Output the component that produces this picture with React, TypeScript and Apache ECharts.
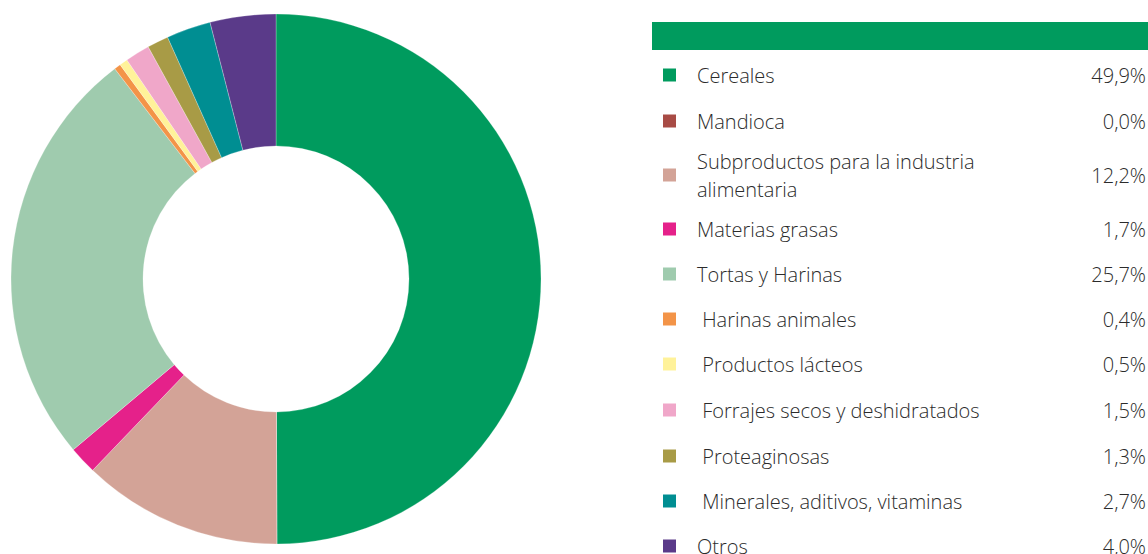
import React, { useEffect, useRef } from "react";
import * as echarts from "echarts";

const categories = [
  "Cereales",
  "Mandioca",
  "Subproductos para la industria\nalimentaria",
  "Materias grasas",
  "Tortas y Harinas",
  " Harinas animales",
  " Productos lácteos",
  " Forrajes secos y deshidratados",
  " Proteaginosas",
  " Minerales, aditivos, vitaminas",
  "Otros",
];
const values = [49.9, 0.0, 12.2, 1.7, 25.7, 0.4, 0.5, 1.5, 1.3, 2.7, 4.0];
const valueLabels = ["49,9%", "0,0%", "12,2%", "1,7%", "25,7%", "0,4%", "0,5%", "1,5%", "1,3%", "2,7%", "4,0%"];
const colors = [
  "#009B5E",
  "#A84B45",
  "#D3A397",
  "#E5218A",
  "#9FCBAE",
  "#F39448",
  "#FFF29A",
  "#F0A7C9",
  "#A89B46",
  "#008E92",
  "#5A3A89",
];
const rowY = [75, 121, 175, 229, 274, 319, 364, 410, 456, 501, 546];

export default function App() {
  const ref = useRef<HTMLDivElement>(null);
  useEffect(() => {
    document.body.style.margin = "0";
    const chart = echarts.init(ref.current!, null, { renderer: "svg" });
    const font = "'Open Sans', 'Noto Sans', sans-serif";
    const legend: any[] = [];
    categories.forEach((c, i) => {
      legend.push({
        type: "rect",
        shape: { x: 663, y: rowY[i] - 6.5, width: 13, height: 13 },
        style: { fill: colors[i] },
      });
      legend.push({
        type: "text",
        x: 697,
        y: rowY[i],
        style: {
          text: c,
          fill: "#2b2b2b",
          font: `300 20px ${font}`,
          verticalAlign: "middle",
          align: "left",
          lineHeight: 28,
        },
      });
      legend.push({
        type: "text",
        x: 1146,
        y: rowY[i],
        style: {
          text: valueLabels[i],
          fill: "#2b2b2b",
          font: `300 20px ${font}`,
          verticalAlign: "middle",
          align: "right",
        },
      });
    });
    chart.setOption({
      animation: false,
      graphic: [
        {
          type: "rect",
          shape: { x: 652, y: 22, width: 496, height: 28 },
          style: { fill: "#009B5E" },
        },
        ...legend,
      ],
      series: [
        {
          type: "pie",
          center: [276, 279],
          radius: [133, 265],
          startAngle: 90,
          clockwise: true,
          label: { show: false },
          labelLine: { show: false },
          emphasis: { disabled: true },
          itemStyle: { borderColor: "rgba(255,255,255,0.5)", borderWidth: 0.5 },
          data: categories.map((c, i) => ({
            name: c,
            value: values[i],
            itemStyle: { color: colors[i] },
          })),
        },
      ],
    });
    return () => chart.dispose();
  }, []);
  return <div ref={ref} style={{ width: 1148, height: 554 }} />;
}
